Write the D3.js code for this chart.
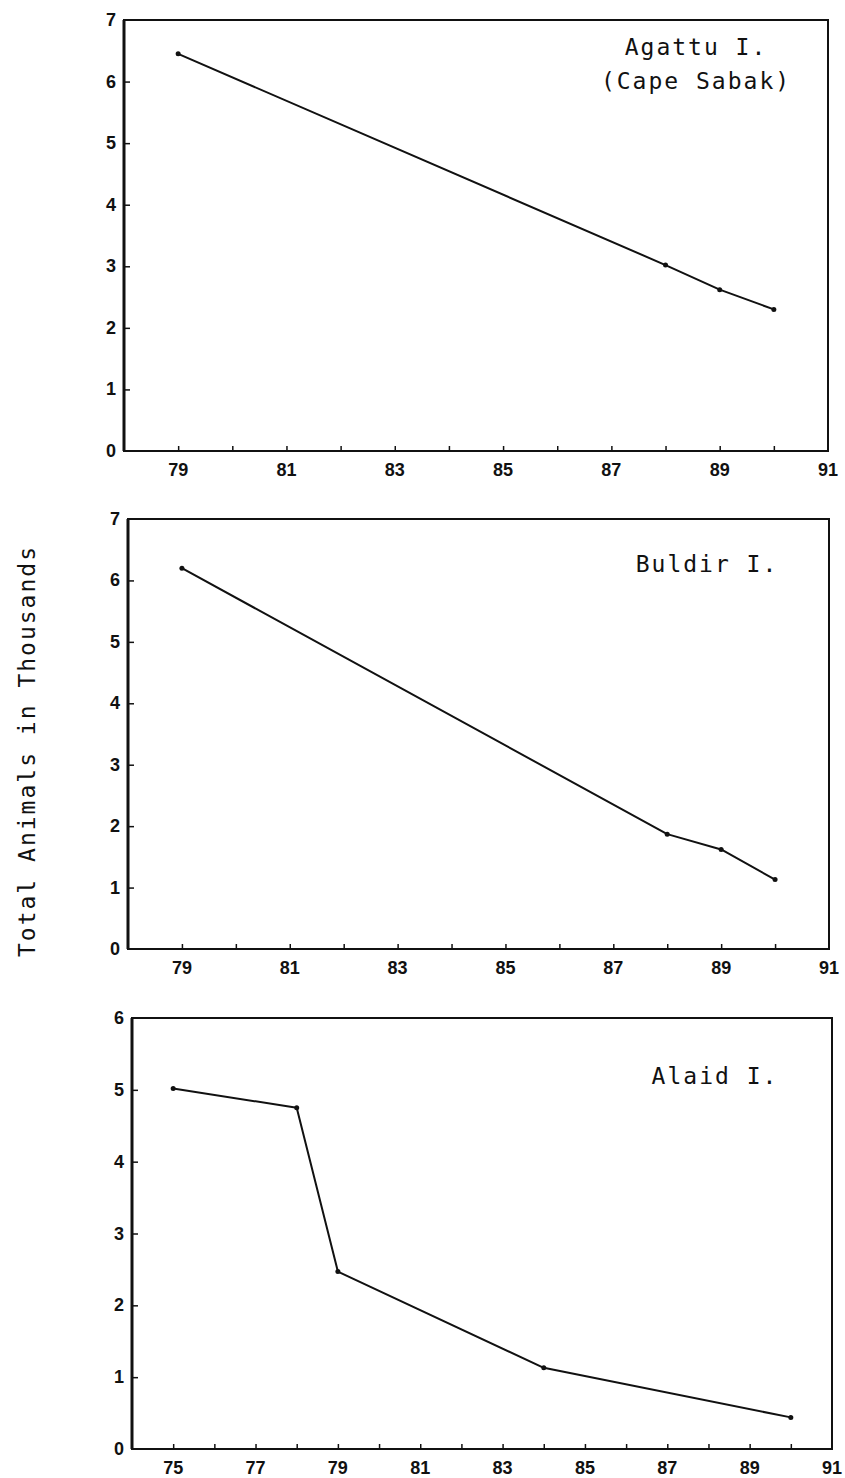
<!DOCTYPE html>
<html>
<head>
<meta charset="utf-8">
<script src="https://cdn.jsdelivr.net/npm/d3@7"></script>
<style>
	body { margin: 0; background: #fff; }
	svg { display: block; }
	.tick-label { font-family: "Liberation Sans", Arial, sans-serif; font-weight: bold; font-size: 18px; fill: #111; }
	.title { font-family: "DejaVu Sans Mono", "Liberation Mono", monospace; font-size: 23px; letter-spacing: 2px; fill: #111; }
</style>
</head>
<body>
<svg id="chart" width="845" height="1478"></svg>
<script>
// values (thousands of animals)
var agattuYears = [79, 88, 89, 90];
var agattuValues = [6.45, 3.02, 2.62, 2.3];
var buldirYears = [79, 88, 89, 90];
var buldirValues = [6.2, 1.87, 1.62, 1.13];
var alaidYears = [75, 78, 79, 84, 90];
var alaidValues = [5.02, 4.75, 2.47, 1.13, 0.44];

var shortYearLabels = [79, 81, 83, 85, 87, 89, 91];
var longYearLabels = [75, 77, 79, 81, 83, 85, 87, 89, 91];
var yLabels7 = [0, 1, 2, 3, 4, 5, 6, 7];
var yLabels6 = [0, 1, 2, 3, 4, 5, 6];

var svg = d3.select('#chart');

class IslandPanel {
	constructor(opt) {
		this.opt = opt;
		this.x = d3.scaleLinear().domain(opt.xDomain).range([opt.left, opt.right]);
		this.y = d3.scaleLinear().domain(opt.yDomain).range([opt.bottom, opt.top]);
		this.g = svg.append('g');
	}
	renderFrame() {
		var o = this.opt;
		this.g.append('rect')
			.attr('x', o.left).attr('y', o.top)
			.attr('width', o.right - o.left).attr('height', o.bottom - o.top)
			.attr('fill', 'none').attr('stroke', '#111').attr('stroke-width', 2);
		// left axis is printed a bit heavier
		this.g.append('line')
			.attr('x1', o.left).attr('x2', o.left)
			.attr('y1', o.top).attr('y2', o.bottom)
			.attr('stroke', '#111').attr('stroke-width', 3);
	}
	renderAxes() {
		var o = this.opt;
		var x = this.x, y = this.y;
		// every year gets a small inward tick, only odd years get a label
		var xAxis = d3.axisBottom(x)
			.tickValues(d3.range(o.xDomain[0] + 1, o.xDomain[1]))
			.tickSize(-5).tickFormat('');
		this.g.append('g')
			.attr('transform', 'translate(0,' + o.bottom + ')')
			.call(xAxis)
			.call(function (g) { g.select('.domain').remove(); })
			.selectAll('line').attr('stroke', '#111').attr('stroke-width', 1.5);

		this.g.selectAll('text.xl')
			.data(o.xLabels).enter()
			.append('text')
			.attr('class', 'tick-label')
			.attr('x', function (d) { return x(d); })
			.attr('y', o.bottom + 25)
			.attr('text-anchor', 'middle')
			.text(function (d) { return d; });

		var yAxis = d3.axisLeft(y).tickValues(o.yLabels.slice(1, -1)).tickSize(-6).tickFormat('');
		this.g.append('g')
			.attr('transform', 'translate(' + o.left + ',0)')
			.call(yAxis)
			.call(function (g) { g.select('.domain').remove(); })
			.selectAll('line').attr('stroke', '#111').attr('stroke-width', 1.5);

		this.g.selectAll('text.yl')
			.data(o.yLabels).enter()
			.append('text')
			.attr('class', 'tick-label')
			.attr('x', o.left - 8)
			.attr('y', function (d) { return y(d) + 6; })
			.attr('text-anchor', 'end')
			.text(function (d) { return d; });
	}
	renderSeries(years, values) {
		var x = this.x, y = this.y;
		var pts = years.map(function (yr, i) { return [yr, values[i]]; });
		var line = d3.line()
			.x(function (d) { return x(d[0]); })
			.y(function (d) { return y(d[1]); });
		this.g.append('path')
			.datum(pts)
			.attr('d', line)
			.attr('fill', 'none').attr('stroke', '#111')
			.attr('stroke-width', 2).attr('stroke-linejoin', 'round');
		this.g.selectAll('circle')
			.data(pts).enter()
			.append('circle')
			.attr('cx', function (d) { return x(d[0]); })
			.attr('cy', function (d) { return y(d[1]); })
			.attr('r', 2.5)
			.attr('fill', '#111');
	}
	renderTitle(lines, tx, ty) {
		var t = this.g.append('text')
			.attr('class', 'title')
			.attr('text-anchor', 'middle');
		lines.forEach(function (s, i) {
			t.append('tspan').attr('x', tx).attr('y', ty + i * 34).text(s);
		});
	}
}

var p1 = new IslandPanel({ left: 124, right: 828, top: 20, bottom: 451, xDomain: [78, 91], yDomain: [0, 7], xLabels: shortYearLabels, yLabels: yLabels7 });
p1.renderFrame();
p1.renderAxes();
p1.renderSeries(agattuYears, agattuValues);
p1.renderTitle(['Agattu I.', '(Cape Sabak)'], 696, 55);

var p2 = new IslandPanel({ left: 128, right: 829, top: 519, bottom: 949, xDomain: [78, 91], yDomain: [0, 7], xLabels: shortYearLabels, yLabels: yLabels7 });
p2.renderFrame();
p2.renderAxes();
p2.renderSeries(buldirYears, buldirValues);
p2.renderTitle(['Buldir I.'], 707, 572);

var p3 = new IslandPanel({ left: 132, right: 832, top: 1018, bottom: 1449, xDomain: [74, 91], yDomain: [0, 6], xLabels: longYearLabels, yLabels: yLabels6 });
p3.renderFrame();
p3.renderAxes();
p3.renderSeries(alaidYears, alaidValues);
p3.renderTitle(['Alaid I.'], 715, 1084);

// shared y axis title
svg.append('text')
	.attr('class', 'title')
	.attr('transform', 'translate(35,751) rotate(-90)')
	.attr('text-anchor', 'middle')
	.text('Total Animals in Thousands');
</script>
</body>
</html>
